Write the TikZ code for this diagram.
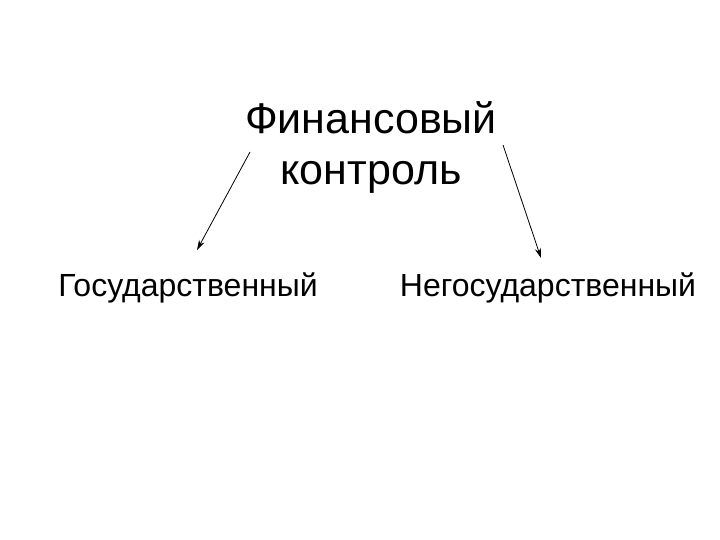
\documentclass[tikz,border=0pt]{standalone}
\usepackage{fontspec}
\setmainfont{Liberation Sans}
\usetikzlibrary{arrows.meta}
\begin{document}
\begin{tikzpicture}[x=1pt,y=-1pt,
  lbl/.style={font=\fontsize{32}{40}\selectfont, inner sep=0pt, align=center},
  big/.style={font=\fontsize{43}{51}\selectfont, inner sep=0pt, align=center},
  arr/.style={-{Stealth[length=10pt,width=6pt]}, line width=0.8pt}]
\useasboundingbox (0,0) rectangle (720,540);
\node[big] (top) at (371,148) {Финансовый\\контроль};
\node[lbl] (gos) at (188,288) {Государственный};
\node[lbl] (neg) at (548,288) {Негосударственный};
\coordinate (a1) at (250,152);
\coordinate (a2) at (503,145);
\draw[arr] (a1) -- (197,250);
\draw[arr] (a2) -- (541,258);
\end{tikzpicture}
\end{document}
